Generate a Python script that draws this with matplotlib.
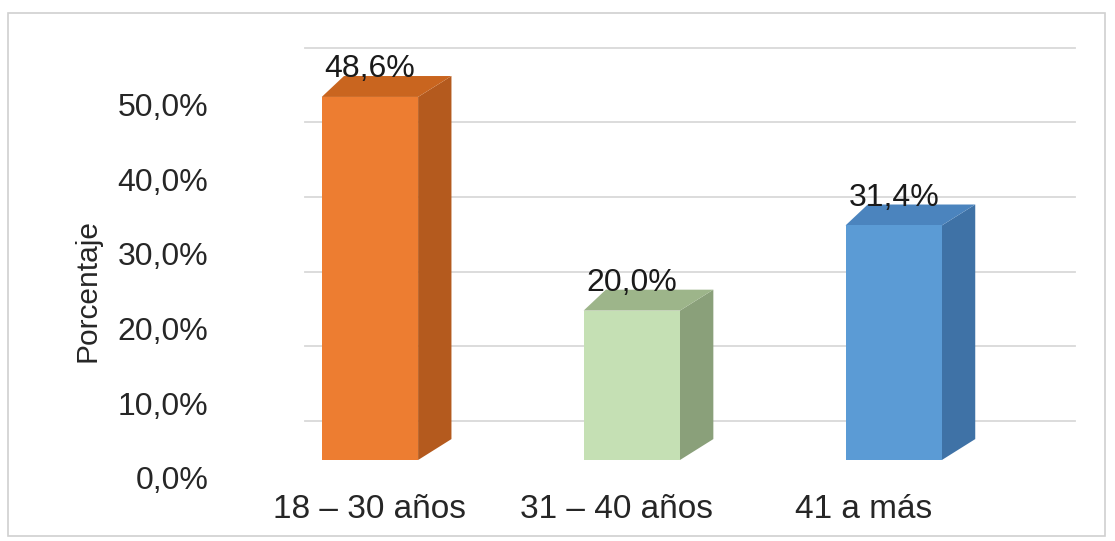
import matplotlib.pyplot as plt
import matplotlib.patches as mpatches
import numpy as np

plt.rcParams['font.family'] = ['Liberation Sans', 'DejaVu Sans']

# datos
categorias = ['18 – 30 años', '31 – 40 años', '41 a más']
valores = [48.6, 20.0, 31.4]
etiquetas = ['48,6%', '20,0%', '31,4%']
ticks = [0, 10, 20, 30, 40, 50]
tick_labels = ['0,0%', '10,0%', '20,0%', '30,0%', '40,0%', '50,0%']

col_frente = ['#ED7D31', '#C5E0B4', '#5B9BD5']
col_lado = ['#B45A1E', '#8AA07A', '#3F72A6']
col_techo = ['#C9651F', '#9DB58A', '#4B84BE']

# efecto 3D (unidades de datos)
ancho = 0.39
dx_izq, dx_der = 0.09, 0.135
dy = 2.8
fondo = 5.2       # desplazamiento de la pared del fondo
desfase_tick = -2.4
perspectiva = 1.06

fig = plt.figure(figsize=(11.15, 5.41), dpi=100)
ax = fig.add_axes([300 / 1115, 51 / 541, 780 / 1115, 460 / 541])
ax.set_xlim(-0.283, 2.874)
ax.set_ylim(-4.016, 57.56)

# lineas de la pared del fondo
for t in ticks:
    ax.plot([-0.263, 2.854], [t + fondo, t + fondo], color='#d9d9d9', lw=1.3, zorder=1)

x = np.arange(len(valores)) * perspectiva
ax.bar(x, valores, width=ancho, color=col_frente, zorder=3)
for xi, v, cl, ct in zip(x, valores, col_lado, col_techo):
    xl, xr = xi - ancho / 2, xi + ancho / 2
    ax.fill([xr, xr + dx_der, xr + dx_der, xr], [0, dy, v + dy, v], color=cl, lw=0, zorder=2)
    ax.fill([xl, xr, xr + dx_der, xl + dx_izq], [v, v, v + dy, v + dy], color=ct, lw=0, zorder=2)

for xi, v, txt in zip(x, valores, etiquetas):
    ax.text(xi, v + 3.7, txt, ha='center', va='center', fontsize=23, color='#1a1a1a', zorder=4)

ax.set_yticks(np.array(ticks) + desfase_tick)
ax.set_yticklabels(tick_labels, fontsize=23, color='#262626')
ax.set_xticks(np.arange(len(categorias)))
ax.set_xticklabels(categorias, fontsize=24, color='#262626')
ax.tick_params(axis='y', length=0, pad=66)
ax.tick_params(axis='x', length=0, pad=3)
for s in ax.spines.values():
    s.set_visible(False)

fig.text(87 / 1115, 1 - 290 / 541, 'Porcentaje', rotation=90, ha='center', va='center',
         fontsize=21.5, color='#262626')

fig.patches.append(mpatches.Rectangle((8 / 1115, 1 - 536 / 541), 1097 / 1115, 523 / 541,
                                      transform=fig.transFigure, fill=False,
                                      edgecolor='#d0d0d0', lw=1.2))

fig.savefig('out.png', dpi=100)
